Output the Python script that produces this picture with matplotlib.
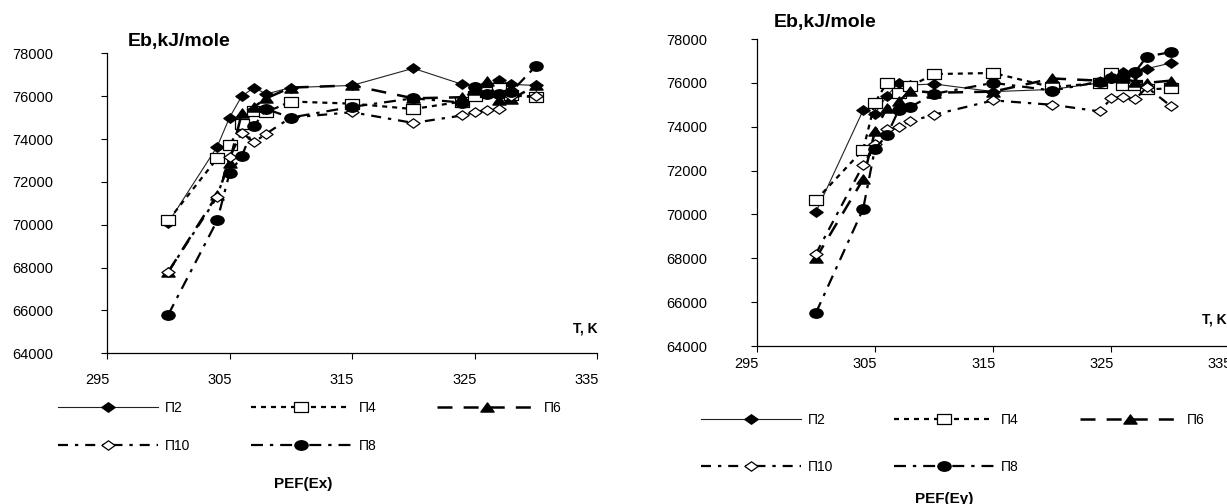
import matplotlib
matplotlib.use('Agg')
import matplotlib.pyplot as plt
import matplotlib.transforms as mtransforms
from matplotlib.path import Path

plt.rcParams['font.family'] = ['Liberation Sans', 'DejaVu Sans']
plt.rcParams['lines.scale_dashes'] = False

# ---------------- data ----------------
x_ticks = [295, 305, 315, 325, 335]
y_ticks = [64000, 66000, 68000, 70000, 72000, 74000, 76000, 78000]
series_names = ['\u041f2', '\u041f4', '\u041f6', '\u041f10', '\u041f8']

T = [300, 304, 305, 306, 307, 308, 310, 315, 320, 324, 325, 326, 327, 328, 330]

# PEF(Ex)
ex_p2 = [70100, 73650, 75000, 76000, 76400, 76100, 76400, 76500, 77300, 76550, 76450, 76450, 76750, 76550, 76500]
ex_p4 = [70200, 73100, 73700, 74700, 75300, 75250, 75750, 75650, 75400, 75750, 76000, 76200, 76400, 76050, 75950]
ex_p6 = [67800, 71400, 72900, 75200, 75500, 75900, 76400, 76500, 75900, 75950, 76300, 76700, 75800, 75850, 76500]
ex_p10 = [67800, 71300, 73150, 74300, 73850, 74250, 75000, 75250, 74750, 75100, 75250, 75350, 75400, 76000, 76000]
ex_p8 = [65800, 70200, 72400, 73200, 74600, 75400, 75000, 75500, 75900, 75700, 76450, 76100, 76100, 76200, 77400]

# PEF(Ey)
ey_p2 = [70100, 74750, 74600, 75400, 76000, 75900, 75950, 75600, 75700, 76000, 76200, 76500, 76400, 76650, 76900]
ey_p4 = [70650, 72950, 75100, 76000, 75550, 75850, 76400, 76450, 75800, 76000, 76450, 75900, 75900, 75700, 75750]
ey_p6 = [68000, 71600, 73800, 74850, 75150, 75650, 75550, 75600, 76200, 76100, 76300, 76200, 76050, 76000, 76100]
ey_p10 = [68200, 72250, 73200, 73900, 74000, 74250, 74550, 75200, 75000, 74700, 75300, 75350, 75250, 75800, 74950]
ey_p8 = [65500, 70250, 73000, 73600, 74750, 74900, 75500, 76000, 75650, 76050, 76200, 76300, 76500, 77200, 77400]

ex_data = [ex_p2, ex_p4, ex_p6, ex_p10, ex_p8]
ey_data = [ey_p2, ey_p4, ey_p6, ey_p10, ey_p8]

# ---------------- styles ----------------
def closed(verts):
    return Path(list(verts) + [verts[0]], closed=True)

m_diamond = closed([(0, 1), (1.4, 0), (0, -1), (-1.4, 0)])
m_square = closed([(-1.45, -1), (1.45, -1), (1.45, 1), (-1.45, 1)])
m_tri = closed([(-1.45, -1), (1.45, -1), (0, 1)])
m_circle = mtransforms.Affine2D().scale(1.4, 1).transform_path(Path.unit_circle())

styles = [
    dict(color='#222222', lw=0.8, ls='-', marker=m_diamond, mfc='black', mec='black', ms=9.5),
    dict(color='black', lw=1.6, ls=(0, (3.6, 3.6)), marker=m_square, mfc='white', mec='black', ms=9.5, mew=0.9),
    dict(color='black', lw=1.8, ls=(0, (10.8, 8.0)), marker=m_tri, mfc='black', mec='black', ms=9.5),
    dict(color='black', lw=1.6, ls=(0, (7.2, 5, 2.4, 5)), marker=m_diamond, mfc='white', mec='black', ms=9.5, mew=0.9),
    dict(color='black', lw=1.6, ls=(0, (8.6, 5, 2.4, 5)), marker=m_circle, mfc='black', mec='black', ms=9.5),
]

W, H = 1227, 504
fig = plt.figure(figsize=(W / 100, H / 100), dpi=100)


def make_panel(rect, data, ypad_px, xpad_pt, title_xy, tk_xy):
    ax = fig.add_axes(rect)
    handles = []
    for vals, st, name in zip(data, styles, series_names):
        ln, = ax.plot(T, vals, label=name, clip_on=False, **st)
        handles.append(ln)
    ax.set_xlim(295, 335)
    ax.set_ylim(64000, 78000)
    ax.set_xticks(x_ticks)
    ax.set_yticks(y_ticks)
    ax.set_xticklabels([str(v) for v in x_ticks])
    ax.set_yticklabels([str(v) for v in y_ticks])
    for s in ['top', 'right']:
        ax.spines[s].set_visible(False)
    for s in ['left', 'bottom']:
        ax.spines[s].set_linewidth(0.9)
        ax.spines[s].set_color('black')
    ax.tick_params(direction='out', length=4, width=0.8, labelsize=10.5, colors='black')
    ax.tick_params(axis='y', pad=ypad_px * 0.72)
    ax.tick_params(axis='x', pad=xpad_pt)
    off = mtransforms.ScaledTranslation(-10 / 100, 0, fig.dpi_scale_trans)
    for lab in ax.get_xticklabels():
        lab.set_transform(lab.get_transform() + off)
    ax.text(title_xy[0], title_xy[1], 'Eb,kJ/mole', transform=ax.transAxes,
            fontsize=14, fontweight='bold', ha='left', va='center')
    ax.text(tk_xy[0], tk_xy[1], 'T, K', transform=ax.transAxes,
            fontsize=10, fontweight='bold', ha='left', va='center')
    return ax, handles


axL, hL = make_panel([107 / W, 1 - 353.3 / H, 490 / W, 300 / H], ex_data, 48, 10.5,
                     (0.043, 1.038), (0.951, 0.084))
axR, hR = make_panel([756.7 / W, 1 - 346 / H, 473 / W, 307 / H], ey_data, 44, 4,
                     (0.035, 1.055), (0.941, 0.085))

# legend order so rows read: П2 П4 П6 / П10 П8
order = [0, 3, 1, 4, 2]
for handles, anchor, lsp in [(hL, (58 / W, 1 - 401 / H), 1.75), (hR, (701 / W, 1 - 413 / H), 2.35)]:
    fig.legend([handles[i] for i in order], [series_names[i] for i in order],
               loc='upper left', bbox_to_anchor=anchor, ncol=3, frameon=False,
               fontsize=10, handlelength=7.2, handletextpad=0.5, columnspacing=4.4,
               labelspacing=lsp, borderpad=0, borderaxespad=0, markerscale=1.0)

fig.text(303 / W, 1 - 484 / H, 'PEF(Ex)', fontsize=11, fontweight='bold', ha='center', va='center')
fig.text(944 / W, 1 - 499 / H, 'PEF(Ey)', fontsize=11, fontweight='bold', ha='center', va='center')

fig.savefig('out.png', dpi=100)
